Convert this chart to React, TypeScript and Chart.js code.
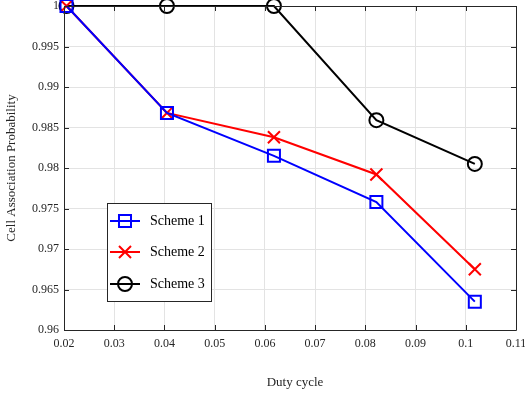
import React, { useEffect, useRef } from "react";
import { Chart, registerables } from "chart.js";

Chart.register(...registerables);

const dutyCycle = [0.0205, 0.0405, 0.0618, 0.0822, 0.1018];
const scheme1 = [1.0, 0.9868, 0.9815, 0.9758, 0.9635];
const scheme2 = [1.0, 0.9868, 0.9838, 0.9792, 0.9675];
const scheme3 = [1.0, 1.0, 1.0, 0.9859, 0.9805];
const seriesNames = ["Scheme 1", "Scheme 2", "Scheme 3"];
const xTitle = "Duty cycle";
const yTitle = "Cell Association Probability";

const FONT = "'Liberation Serif', 'Times New Roman', serif";

function drawMarker(ctx: CanvasRenderingContext2D, style: string, x: number, y: number, r: number) {
  ctx.beginPath();
  if (style === "rect") {
    const s = Math.SQRT1_2 * r;
    ctx.rect(x - s, y - s, 2 * s, 2 * s);
  } else if (style === "crossRot") {
    const s = Math.SQRT1_2 * r;
    ctx.moveTo(x - s, y - s);
    ctx.lineTo(x + s, y + s);
    ctx.moveTo(x - s, y + s);
    ctx.lineTo(x + s, y - s);
  } else {
    ctx.arc(x, y, r, 0, Math.PI * 2);
  }
  ctx.stroke();
}

const framePlugin = {
  id: "frame",
  afterDatasetsDraw(chart: any) {
    const { ctx, chartArea } = chart;
    const { left, right, top, bottom } = chartArea;
    const xs = chart.scales.x;
    const ys = chart.scales.y;
    ctx.save();
    ctx.strokeStyle = "#262626";
    ctx.lineWidth = 1;
    ctx.beginPath();
    ctx.rect(Math.round(left) + 0.5, Math.round(top) + 0.5, Math.round(right - left), Math.round(bottom - top));
    ctx.stroke();
    const tl = 5;
    ctx.beginPath();
    xs.ticks.forEach((t: any) => {
      const px = Math.round(xs.getPixelForValue(t.value)) + 0.5;
      ctx.moveTo(px, bottom);
      ctx.lineTo(px, bottom - tl);
      ctx.moveTo(px, top);
      ctx.lineTo(px, top + tl);
    });
    ys.ticks.forEach((t: any) => {
      const py = Math.round(ys.getPixelForValue(t.value)) + 0.5;
      ctx.moveTo(left, py);
      ctx.lineTo(left + tl, py);
      ctx.moveTo(right, py);
      ctx.lineTo(right - tl, py);
    });
    ctx.stroke();

    // axis titles
    ctx.fillStyle = "#262626";
    ctx.font = `13px ${FONT}`;
    ctx.textAlign = "center";
    ctx.textBaseline = "middle";
    ctx.fillText(xTitle, 295, 383);
    ctx.save();
    ctx.translate(12, (top + bottom) / 2);
    ctx.rotate(-Math.PI / 2);
    ctx.fillText(yTitle, 0, 0);
    ctx.restore();

    // legend
    const lx = 107.5, ly = 203.5, lw = 104, lh = 98;
    ctx.fillStyle = "#ffffff";
    ctx.fillRect(lx, ly, lw, lh);
    ctx.strokeStyle = "#262626";
    ctx.lineWidth = 1;
    ctx.strokeRect(lx, ly, lw, lh);
    const rows = [221, 252, 284];
    chart.data.datasets.forEach((ds: any, i: number) => {
      const yy = rows[i];
      ctx.strokeStyle = ds.borderColor;
      ctx.lineWidth = 2;
      ctx.beginPath();
      ctx.moveTo(110, yy);
      ctx.lineTo(140, yy);
      ctx.stroke();
      drawMarker(ctx, ds.pointStyle, 125, yy, ds.pointRadius);
      ctx.fillStyle = "#000000";
      ctx.font = `14px ${FONT}`;
      ctx.textAlign = "left";
      ctx.textBaseline = "middle";
      ctx.fillText(ds.label, 150, yy);
    });
    ctx.restore();
  },
};

export default function App() {
  const ref = useRef<HTMLCanvasElement | null>(null);
  useEffect(() => {
    if (!ref.current) return;
    const mk = (label: string, data: number[], color: string, style: string, r: number) => ({
      label,
      data: dutyCycle.map((x, i) => ({ x, y: data[i] })),
      borderColor: color,
      backgroundColor: "rgba(0,0,0,0)",
      borderWidth: 2,
      pointStyle: style,
      pointRadius: r,
      pointBorderWidth: 2,
      pointBorderColor: color,
      pointBackgroundColor: "rgba(0,0,0,0)",
      clip: false as any,
      tension: 0,
    });
    const chart = new Chart(ref.current, {
      type: "line",
      data: {
        datasets: [
          mk(seriesNames[0], scheme1, "#0000ff", "rect", 8.5),
          mk(seriesNames[1], scheme2, "#ff0000", "crossRot", 8.5),
          mk(seriesNames[2], scheme3, "#000000", "circle", 7),
        ],
      },
      options: {
        responsive: false,
        animation: false,
        devicePixelRatio: 1,
        layout: { autoPadding: false, padding: { left: 0, top: 6, right: 9, bottom: 0 } },
        plugins: { legend: { display: false }, tooltip: { enabled: false } },
        scales: {
          x: {
            type: "linear",
            min: 0.02,
            max: 0.11,
            border: { display: false },
            grid: { color: "#e3e3e3", drawTicks: false, lineWidth: 1 },
            ticks: {
              stepSize: 0.01,
              padding: 7,
              color: "#262626",
              font: { family: FONT, size: 12 },
              maxRotation: 0,
              callback: (v: any) => String(Number(Number(v).toFixed(2))),
            },
            afterFit: (s: any) => {
              s.height = 65;
              s.paddingLeft = 0;
              s.paddingRight = 0;
            },
          },
          y: {
            type: "linear",
            min: 0.96,
            max: 1,
            border: { display: false },
            grid: { color: "#e3e3e3", drawTicks: false, lineWidth: 1 },
            ticks: {
              stepSize: 0.005,
              padding: 5,
              color: "#262626",
              font: { family: FONT, size: 12 },
              callback: (v: any) => String(Number(Number(v).toFixed(3))),
            },
            afterFit: (s: any) => {
              s.width = 64;
              s.paddingTop = 0;
              s.paddingBottom = 0;
            },
          },
        },
      },
      plugins: [framePlugin],
    });
    return () => chart.destroy();
  }, []);
  return (
    <div style={{ position: "absolute", left: 0, top: 0, width: 525, height: 395, background: "#fff" }}>
      <canvas ref={ref} width={525} height={395} />
    </div>
  );
}
